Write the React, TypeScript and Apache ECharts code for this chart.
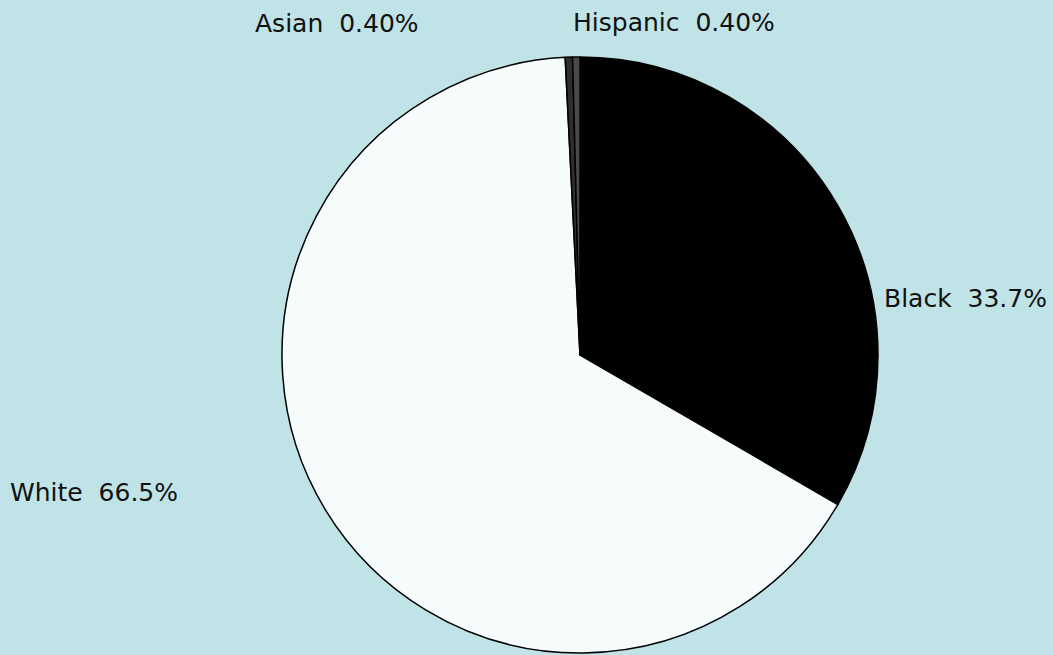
import React, { useEffect, useRef } from "react";
import * as echarts from "echarts";

const categories = ["Black", "White", "Asian", "Hispanic"];
const values = [33.7, 66.5, 0.4, 0.4];
const valueLabels = ["33.7%", "66.5%", "0.40%", "0.40%"];
const colors = ["#000000", "#f6fbfb", "#2e2e2e", "#4a4a4a"];
// label anchor positions (left, middle) in px
const labelPos = [
  [884, 298],
  [10, 492],
  [255, 23],
  [573, 22],
];

export default function App() {
  const ref = useRef<HTMLDivElement>(null);
  useEffect(() => {
    const chart = echarts.init(ref.current!, null, { renderer: "svg" });
    chart.setOption({
      animation: false,
      backgroundColor: "#bfe3e7",
      series: [
        {
          type: "pie",
          center: [580, 355],
          radius: 298,
          startAngle: 90,
          clockwise: true,
          avoidLabelOverlap: false,
          data: categories.map((c, i) => ({
            name: c,
            value: values[i],
            itemStyle: { color: colors[i] },
          })),
          itemStyle: { borderColor: "#000", borderWidth: 1.5 },
          emphasis: { disabled: true },
          label: {
            show: true,
            position: "outside",
            formatter: (p: any) => `${p.name}  ${valueLabels[p.dataIndex]}`,
            fontFamily: "DejaVu Sans, sans-serif",
            fontSize: 25,
            color: "#111",
          },
          labelLine: { show: false },
          labelLayout: (p: any) => ({
            x: labelPos[p.dataIndex][0],
            y: labelPos[p.dataIndex][1],
            align: "left",
            verticalAlign: "middle",
          }),
        },
      ],
    });
    return () => chart.dispose();
  }, []);
  return (
    <div
      ref={ref}
      style={{ position: "fixed", left: 0, top: 0, width: 1053, height: 655 }}
    />
  );
}
